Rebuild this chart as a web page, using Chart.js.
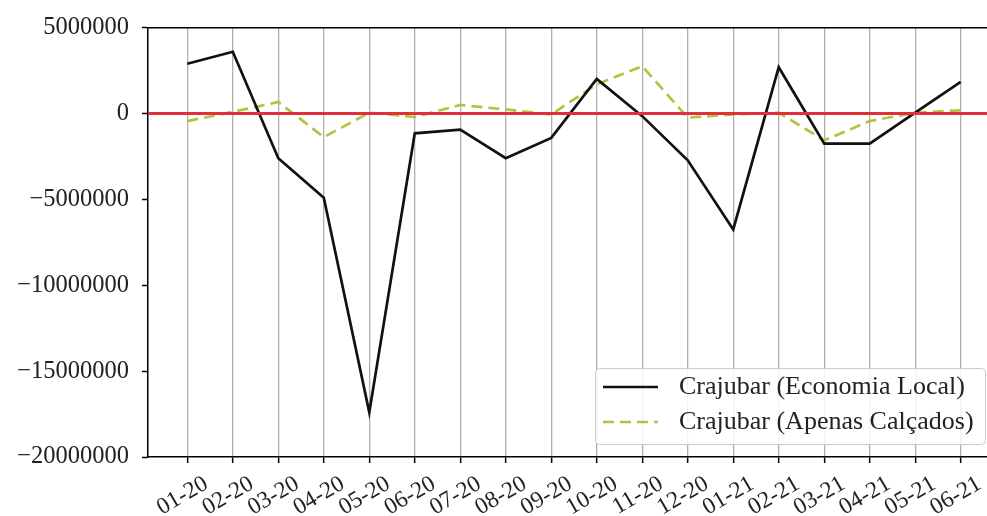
<!DOCTYPE html>
<html>
<head>
<meta charset="utf-8">
<script src="https://cdn.jsdelivr.net/npm/chart.js@4.4.1/dist/chart.umd.min.js"></script>
<style>
  html, body { margin: 0; padding: 0; background: #fff; overflow: hidden; }
  #wrap { width: 987px; height: 516px; }
</style>
</head>
<body>
<div id="wrap"><canvas id="c" width="987" height="516"></canvas></div>
<script>
// Month labels (MM-YY)
const months = ['01-20','02-20','03-20','04-20','05-20','06-20','07-20','08-20','09-20',
                '10-20','11-20','12-20','01-21','02-21','03-21','04-21','05-21','06-21'];

// Monthly balance, local economy
const economiaLocal = [2900000, 3600000, -2600000, -4900000, -17400000, -1150000, -940000, -2600000, -1420000,
                       2020000, -150000, -2720000, -6750000, 2700000, -1750000, -1750000, 50000, 1850000];

// Monthly balance, footwear only
const apenasCalcados = [-440000, 100000, 670000, -1370000, 50000, -200000, 500000, 240000, -50000,
                        1700000, 2760000, -240000, -50000, 50000, -1560000, -440000, 50000, 190000];

// Y axis tick values
const yTicks = [5000000, 0, -5000000, -10000000, -15000000, -20000000];
const zeroLevel = 0;

const FONT = "'Liberation Serif', 'Times New Roman', serif";

function fmt(v) {
  return v < 0 ? '\u2212' + String(Math.abs(v)) : String(v);
}

// Horizontal reference line at zero, plus the top frame line
const refLines = {
  id: 'refLines',
  afterDatasetsDraw(chart) {
    const {ctx, chartArea, scales} = chart;
    const y0 = scales.y.getPixelForValue(zeroLevel);
    ctx.save();
    ctx.strokeStyle = '#e0303a';
    ctx.lineWidth = 3;
    ctx.beginPath();
    ctx.moveTo(chartArea.left, y0);
    ctx.lineTo(chartArea.right, y0);
    ctx.stroke();
    ctx.strokeStyle = '#000';
    ctx.lineWidth = 1.5;
    ctx.beginPath();
    ctx.moveTo(chartArea.left, chartArea.top);
    ctx.lineTo(chartArea.right, chartArea.top);
    ctx.stroke();
    ctx.restore();
  }
};

// Legend box in the lower right of the plot
const boxLegend = {
  id: 'boxLegend',
  afterDraw(chart) {
    const {ctx} = chart;
    const x = 595, y = 368, w = 390, h = 76;
    ctx.save();
    ctx.fillStyle = 'rgba(255,255,255,0.85)';
    ctx.strokeStyle = '#cccccc';
    ctx.lineWidth = 1;
    ctx.beginPath();
    ctx.roundRect(x + 0.5, y + 0.5, w, h, 4);
    ctx.fill();
    ctx.stroke();
    ctx.font = '26px ' + FONT;
    ctx.textBaseline = 'middle';
    ctx.textAlign = 'left';
    chart.data.datasets.forEach((ds, i) => {
      const ry = y + 19 + i * 35;
      ctx.strokeStyle = ds.borderColor;
      ctx.lineWidth = ds.borderWidth;
      ctx.setLineDash(ds.borderDash || []);
      ctx.beginPath();
      ctx.moveTo(x + 8, ry);
      ctx.lineTo(x + 63, ry);
      ctx.stroke();
      ctx.setLineDash([]);
      ctx.fillStyle = '#222';
      ctx.fillText(ds.label, x + 84, ry);
    });
    ctx.restore();
  }
};

const toPoints = arr => arr.map((v, i) => ({x: i, y: v}));

new Chart(document.getElementById('c'), {
  type: 'line',
  data: {
    datasets: [
      {
        label: 'Crajubar (Economia Local)',
        data: toPoints(economiaLocal),
        borderColor: '#111111',
        borderWidth: 2.7,
        pointRadius: 0,
        tension: 0,
        fill: false
      },
      {
        label: 'Crajubar (Apenas Cal\u00e7ados)',
        data: toPoints(apenasCalcados),
        borderColor: '#b7c040',
        borderWidth: 2.7,
        borderDash: [11, 6],
        pointRadius: 0,
        tension: 0,
        fill: false
      }
    ]
  },
  options: {
    responsive: false,
    animation: false,
    devicePixelRatio: 1,
    layout: { padding: { top: 27, left: 0, right: 0, bottom: 0 } },
    plugins: {
      legend: { display: false },
      tooltip: { enabled: false }
    },
    scales: {
      x: {
        type: 'linear',
        min: -0.864,
        max: 17.578,
        afterBuildTicks(scale) {
          scale.ticks = months.map((_, i) => ({value: i}));
        },
        afterFit(scale) {
          scale.height = 59;
          scale.paddingLeft = 0;
          scale.paddingRight = 0;
        },
        ticks: {
          autoSkip: false,
          minRotation: 30,
          maxRotation: 30,
          labelOffset: 19,
          padding: 7,
          color: '#222',
          font: { family: FONT, size: 23.5 },
          callback: v => months[v] ?? ''
        },
        grid: {
          color: '#b0b0b0',
          lineWidth: 1.3,
          tickColor: '#000',
          tickLength: 6,
          tickWidth: 1.5
        },
        border: { display: true, color: '#000', width: 1.5 }
      },
      y: {
        min: -20000000,
        max: 5000000,
        afterBuildTicks(scale) {
          scale.ticks = yTicks.map(v => ({value: v}));
        },
        afterFit(scale) { scale.width = 148; },
        ticks: {
          padding: 13,
          color: '#222',
          font: { family: FONT, size: 24.5 },
          callback: v => fmt(v)
        },
        grid: {
          drawOnChartArea: false,
          tickColor: '#000',
          tickLength: 6,
          tickWidth: 1.5
        },
        border: { display: true, color: '#000', width: 1.5 }
      }
    }
  },
  plugins: [refLines, boxLegend]
});
</script>
</body>
</html>
